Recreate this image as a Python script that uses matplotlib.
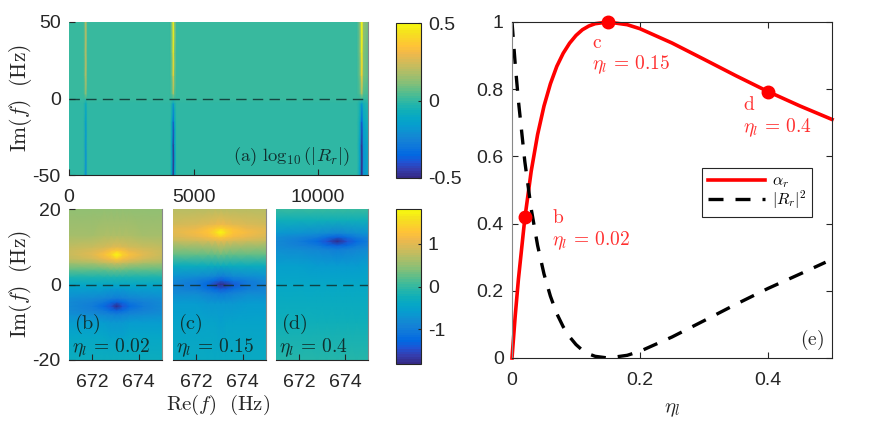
import matplotlib
matplotlib.use("Agg")
import matplotlib.pyplot as plt
from matplotlib.colors import LinearSegmentedColormap

plt.rcParams['font.family'] = ['Liberation Sans', 'DejaVu Sans']
plt.rcParams['mathtext.fontset'] = 'cm'
plt.rcParams['axes.unicode_minus'] = False

# panel (a): log10|Rr|, read at selected columns / rows
a_x = [0, 590, 670, 750, 4060, 4130, 4190, 4250, 4320, 11560, 11680, 11750, 11820, 12000]
a_y = [-50, -30, -15, -3, 0, 3, 15, 30, 50]
a_z = [
    [-.01, -.01, -.2, -.01, -.01, -.12, -.5, -.12, -.01, -.01, -.14, -.5, -.2, -.12],
    [-.01, -.01, -.18, -.01, -.01, -.11, -.47, -.11, -.01, -.01, -.13, -.47, -.18, -.1],
    [-.01, -.01, -.15, -.01, -.01, -.08, -.36, -.08, -.01, -.01, -.09, -.36, -.12, -.06],
    [-.01, -.01, -.08, -.01, -.01, -.04, -.14, -.04, -.01, -.01, -.05, -.14, -.05, -.03],
    [0, 0, .01, 0, 0, 0, .01, 0, 0, 0, 0, .01, 0, 0],
    [.012, .012, .12, .012, .012, .04, .16, .04, .012, .012, .04, .16, .04, .03],
    [.012, .012, .2, .012, .012, .07, .38, .07, .012, .012, .08, .38, .1, .05],
    [.012, .012, .2, .012, .012, .09, .46, .09, .012, .012, .1, .46, .12, .06],
    [.012, .012, .2, .012, .012, .11, .5, .11, .012, .012, .12, .5, .15, .08],
]

# panels (b), (c), (d): log10|Rr| near one resonance
bc_x = [671, 672, 672.5, 672.8, 673.05, 673.3, 673.6, 674.2, 675]
b_y = [-20, -14, -10, -7.8, -6.8, -5.7, -4.6, -3.6, -1, 0, 2, 4, 5.8, 6.8, 7.9, 9, 10, 13, 20]
b_z = [
    [-.3, -.3, -.3, -.3, -.3, -.3, -.3, -.3, -.3],
    [-.45, -.45, -.45, -.46, -.46, -.46, -.45, -.45, -.45],
    [-.58, -.6, -.62, -.63, -.64, -.63, -.62, -.6, -.58],
    [-.74, -.8, -.86, -.92, -.97, -.92, -.86, -.8, -.74],
    [-.8, -.92, -1.05, -1.2, -1.35, -1.2, -1.05, -.92, -.8],
    [-.85, -1.0, -1.2, -1.45, -1.82, -1.45, -1.2, -1.0, -.85],
    [-.82, -.94, -1.08, -1.22, -1.36, -1.22, -1.08, -.94, -.82],
    [-.76, -.82, -.88, -.94, -.98, -.94, -.88, -.82, -.76],
    [-.55, -.55, -.56, -.57, -.58, -.57, -.56, -.55, -.55],
    [-.45, -.45, -.45, -.45, -.45, -.45, -.45, -.45, -.45],
    [-.15, -.15, -.14, -.13, -.12, -.13, -.14, -.15, -.15],
    [.25, .26, .28, .3, .32, .3, .28, .26, .25],
    [.62, .68, .76, .84, .9, .84, .76, .68, .62],
    [.78, .9, 1.03, 1.18, 1.32, 1.18, 1.03, .9, .78],
    [.85, 1.0, 1.2, 1.45, 1.82, 1.45, 1.2, 1.0, .85],
    [.8, .92, 1.05, 1.2, 1.34, 1.2, 1.05, .92, .8],
    [.75, .8, .86, .92, .97, .92, .86, .8, .75],
    [.6, .62, .64, .66, .68, .66, .64, .62, .6],
    [.5, .5, .5, .5, .5, .5, .5, .5, .5],
]
c_y = [-20, -10, -5, -2.2, -1.1, 0, 1.1, 2.2, 5, 8, 11.7, 12.7, 13.8, 14.9, 16, 20]
c_z = [
    [-.35, -.35, -.35, -.35, -.35, -.35, -.35, -.35, -.35],
    [-.5, -.5, -.5, -.5, -.52, -.5, -.5, -.5, -.5],
    [-.62, -.62, -.64, -.66, -.68, -.66, -.64, -.62, -.62],
    [-.8, -.85, -.92, -.98, -1.05, -1.0, -.92, -.85, -.8],
    [-.88, -1.0, -1.14, -1.28, -1.42, -1.34, -1.14, -1.0, -.88],
    [-.92, -1.08, -1.3, -1.55, -1.82, -1.7, -1.4, -1.08, -.92],
    [-.85, -.97, -1.1, -1.24, -1.38, -1.3, -1.1, -.97, -.85],
    [-.72, -.77, -.84, -.9, -.97, -.92, -.84, -.77, -.72],
    [-.3, -.3, -.3, -.32, -.34, -.32, -.3, -.3, -.3],
    [.25, .26, .27, .28, .3, .28, .27, .26, .25],
    [.82, .88, .95, 1.02, 1.08, 1.02, .95, .88, .82],
    [.95, 1.05, 1.17, 1.3, 1.42, 1.3, 1.17, 1.05, .95],
    [1.0, 1.15, 1.3, 1.52, 1.82, 1.52, 1.3, 1.15, 1.0],
    [.98, 1.08, 1.2, 1.32, 1.44, 1.32, 1.2, 1.08, .98],
    [.9, .95, 1.02, 1.07, 1.12, 1.07, 1.02, .95, .9],
    [.7, .7, .71, .72, .73, .72, .71, .7, .7],
]
d_x = [671, 672, 672.8, 673.2, 673.67, 674.1, 674.5, 675]
d_y = [-20, -10, 0, 5, 9.4, 10.4, 11.5, 12.6, 13.6, 17, 20]
d_z = [
    [-.1, -.1, -.1, -.1, -.1, -.1, -.1, -.1],
    [-.25, -.25, -.25, -.25, -.25, -.25, -.25, -.25],
    [-.42, -.42, -.42, -.42, -.43, -.42, -.42, -.42],
    [-.55, -.55, -.57, -.58, -.6, -.58, -.57, -.55],
    [-.76, -.8, -.86, -.92, -.98, -.92, -.86, -.8],
    [-.82, -.92, -1.05, -1.2, -1.36, -1.2, -1.05, -.92],
    [-.85, -1.0, -1.2, -1.45, -1.82, -1.45, -1.2, -1.0],
    [-.78, -.9, -1.02, -1.16, -1.32, -1.16, -1.02, -.9],
    [-.65, -.7, -.76, -.82, -.88, -.82, -.76, -.7],
    [-.25, -.25, -.26, -.27, -.28, -.27, -.26, -.25],
    [.05, .05, .05, .05, .05, .05, .05, .05],
]

# panel (e)
eta = [0, .005, .01, .02, .03, .04, .05, .06, .07, .08, .09, .1, .11, .12, .13, .15,
       .18, .2, .25, .3, .35, .4, .45, .5]
alpha_r = [0, .125, .234, .415, .556, .665, .75, .816, .868, .907, .937, .96, .977, .988, .995, 1,
           .992, .98, .9375, .889, .84, .793, .75, .71]
r2 = [1, .875, .766, .585, .444, .335, .25, .184, .132, .093, .063, .04, .023, .012, .005, 0,
      .008, .02, .0625, .111, .16, .207, .25, .285]
pts_x = [.02, .15, .4]
pts_y = [.42, 1, .793]

parula = LinearSegmentedColormap.from_list('parula', [
    (0.2081, 0.1663, 0.5292), (0.2081, 0.2386, 0.6771), (0.1253, 0.3242, 0.8303),
    (0.0060, 0.4086, 0.8828), (0.0498, 0.4586, 0.8641), (0.0779, 0.5040, 0.8384),
    (0.0641, 0.5570, 0.8240), (0.0265, 0.6137, 0.8135), (0.0228, 0.6535, 0.7768),
    (0.0590, 0.6838, 0.7254), (0.1453, 0.7098, 0.6646), (0.2586, 0.7317, 0.5954),
    (0.3953, 0.7459, 0.5244), (0.5300, 0.7491, 0.4661), (0.6473, 0.7456, 0.4188),
    (0.7525, 0.7384, 0.3768), (0.8507, 0.7299, 0.3360), (0.9450, 0.7261, 0.2886),
    (0.9990, 0.7653, 0.2164), (0.9789, 0.8271, 0.1633), (0.9589, 0.8949, 0.1132),
    (0.9763, 0.9831, 0.0538)], N=64)

W, H = 872, 429
dark = '#262626'
ink = '#10302f'
fig = plt.figure(figsize=(W / 100, H / 100), dpi=100)


def box(x0, y0, x1, y1):
    # pixel box, measured from the top left of the picture
    return fig.add_axes([x0 / W, 1 - y1 / H, (x1 - x0) / W, (y1 - y0) / H])


def style(ax):
    ax.tick_params(direction='in', length=4, width=0.8, color=dark, labelcolor=dark,
                   labelsize=14, pad=6)
    ax.tick_params(axis='x', pad=10)
    for s in ax.spines.values():
        s.set_color(dark)
        s.set_linewidth(0.8)


def heat_panel(rect, x, y, z, lim, ticks, ylim):
    ax = box(*rect)
    m = ax.pcolormesh(x, y, z, shading='gouraud', cmap=parula, vmin=-lim, vmax=lim)
    ax.axhline(0, color=ink, lw=1.0, dashes=(7.5, 4.5), alpha=.85)
    ax.set_xlim(x[0], x[-1])
    ax.set_ylim(*ylim)
    ax.set_xticks(ticks)
    style(ax)
    ax.spines['top'].set_visible(False)
    ax.spines['left'].set_visible(False)
    ax.spines['right'].set_color('#888888')
    return ax, m


def color_bar(m, rect, ticks, labels):
    cax = box(*rect)
    cb = fig.colorbar(m, cax=cax)
    cb.set_ticks(ticks, labels=labels)
    style(cax)
    cax.tick_params(length=2, pad=5)
    return cb


ylab = r'$\mathrm{Im}(f)\ \ \mathrm{(Hz)}$'

ax_a, m_a = heat_panel((69, 22, 368, 175), a_x, a_y, a_z, .5, [0, 5000, 10000], (-50, 50))
ax_a.set_yticks([-50, 0, 50])
ax_a.set_yticklabels(['-50', '0', '50'])
ax_a.set_ylabel(ylab, fontsize=15.5, color=dark, labelpad=-1)
ax_a.text(.94, .12, r'$\mathrm{(a)}\ \log_{10}(|R_r|)$', transform=ax_a.transAxes,
          fontsize=13.4, color=ink, ha='right', va='center')
color_bar(m_a, (396, 23, 421, 178), [-.5, 0, .5], ['-0.5', '0', '0.5'])

panels = [
    ((69, 209, 162, 360), bc_x, b_y, b_z, '(b)', r'$\eta_l\,=\,0.02$'),
    ((173, 209, 266, 360), bc_x, c_y, c_z, '(c)', r'$\eta_l\,=\,0.15$'),
    ((276, 209, 368, 360), d_x, d_y, d_z, '(d)', r'$\eta_l\,=\,0.4$'),
]
for i, (rect, x, y, z, tag, note) in enumerate(panels):
    ax, m = heat_panel(rect, x, y, z, 1.82, [672, 674], (-20, 20))
    ax.set_xticklabels(['672', '674'])
    ax.text(671.2, -10.5, r'$\mathrm{' + tag + '}$', fontsize=14.5, color=ink, va='center')
    ax.text(671.15, -16.7, note, fontsize=14, color=ink, va='center')
    if i == 0:
        ax.set_yticks([-20, 0, 20])
        ax.set_yticklabels(['-20', '0', '20'])
        ax.set_ylabel(ylab, fontsize=15.5, color=dark, labelpad=-1)
    else:
        ax.set_yticks([])
    if i == 1:
        ax.set_xlabel(r'$\mathrm{Re}(f)\ \ \mathrm{(Hz)}$', fontsize=15, color=dark, labelpad=3)
        ax.xaxis.set_label_coords(.48, -.22)
color_bar(m, (396, 209, 421, 364), [-1, 0, 1], ['-1', '0', '1'])

ax_e = box(512, 22, 832, 358)
ax_e.plot(eta, alpha_r, color='#ff0000', lw=2.6, label=r'$\alpha_r$', clip_on=False)
ax_e.plot(eta[:-1] + [.49], r2, color='k', lw=2.4, dashes=(4.5, 3.6), label=r'$|R_r|^2$')
ax_e.plot(pts_x, pts_y, 'o', color='#ff0000', ms=9, clip_on=False, zorder=5)
ax_e.set_xlim(0, .5)
ax_e.set_ylim(0, 1)
ax_e.set_xticks([0, .2, .4])
ax_e.set_xticklabels(['0', '0.2', '0.4'])
ax_e.set_yticks([0, .2, .4, .6, .8, 1])
ax_e.set_yticklabels(['0', '0.2', '0.4', '0.6', '0.8', '1'])
style(ax_e)
ax_e.yaxis.set_ticks_position('both')
ax_e.xaxis.set_ticks_position('both')
ax_e.spines['left'].set_color('#888888')
ax_e.set_xlabel(r'$\eta_l$', fontsize=15, color=dark, labelpad=8)

red = '#ff3030'
ax_e.text(.0625, .417, r'$\mathrm{b}$', color=red, fontsize=14, va='center')
ax_e.text(.0625, .348, r'$\eta_l\,=\,0.02$', color=red, fontsize=14, va='center')
ax_e.text(.125, .9375, r'$\mathrm{c}$', color=red, fontsize=14, va='center')
ax_e.text(.125, .872, r'$\eta_l\,=\,0.15$', color=red, fontsize=14, va='center')
ax_e.text(.361, .753, r'$\mathrm{d}$', color=red, fontsize=14, va='center')
ax_e.text(.361, .684, r'$\eta_l\,=\,0.4$', color=red, fontsize=14, va='center')
ax_e.text(.488, .053, r'$\mathrm{(e)}$', color=dark, fontsize=14, ha='right', va='center')

leg = ax_e.legend(loc='upper left', bbox_to_anchor=(.594, .565), fontsize=11.5, fancybox=False,
                  framealpha=1, edgecolor=dark, borderaxespad=0, borderpad=.35,
                  handlelength=3.6, handletextpad=.4, labelspacing=-.1)
leg.get_frame().set_linewidth(0.8)

fig.savefig('out.png', dpi=100)
